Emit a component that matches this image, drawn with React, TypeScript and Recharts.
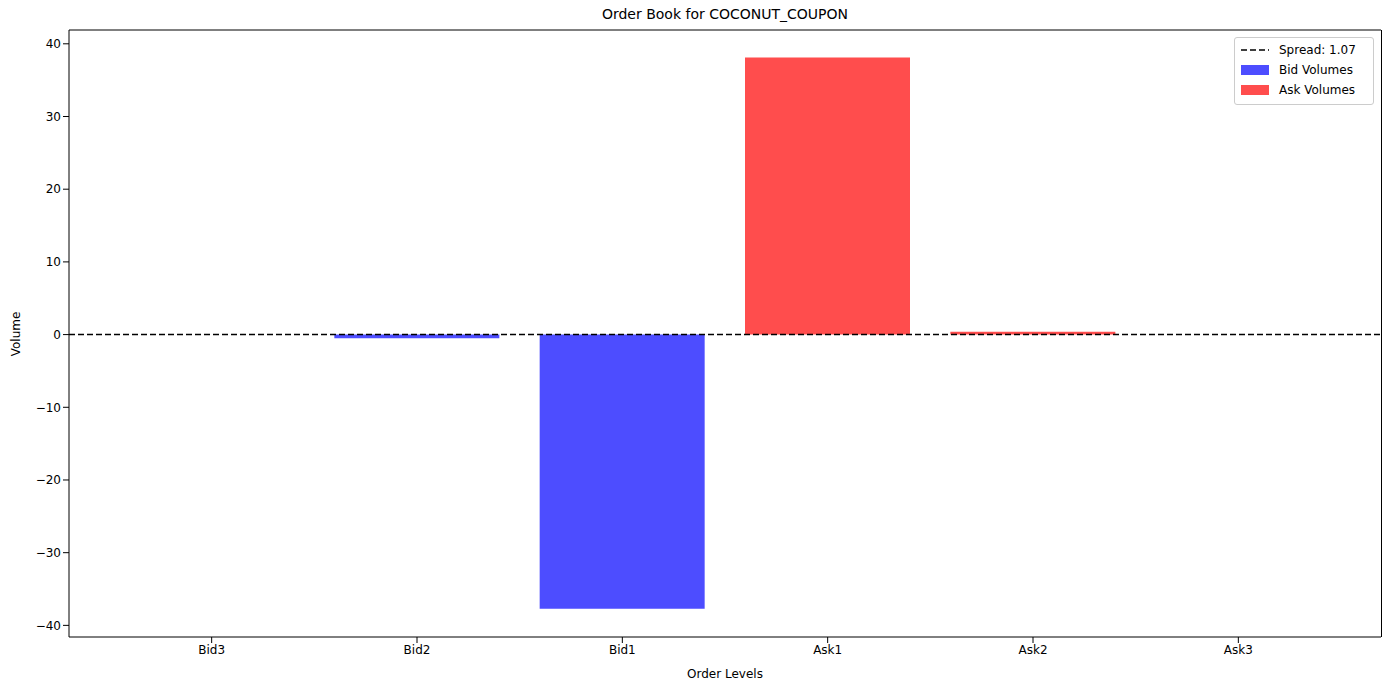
import { BarChart, Bar, XAxis, YAxis, ReferenceLine } from "recharts"

const levels = ["Bid3", "Bid2", "Bid1", "Ask1", "Ask2", "Ask3"]
const bidVolumes = [0, -0.5, -37.7, 0, 0, 0]
const askVolumes = [0, 0, 0, 38.1, 0.4, 0]
const yTicks = [-40, -30, -20, -10, 0, 10, 20, 30, 40]
const spread = 1.07

const data = levels.map((level, i) => ({ level, bid: bidVolumes[i], ask: askVolumes[i] }))

const font = "DejaVu Sans, sans-serif"
const fmt = (v: number) => (v < 0 ? "\u2212" + Math.abs(v) : String(v))

export default function App() {
  return (
    <div style={{ position: "absolute", left: 0, top: 0, width: 1389, height: 690, background: "#fff", fontFamily: font }}>
      <div style={{ position: "absolute", top: 6, left: 69, width: 1312, textAlign: "center", fontSize: 14 }}>
        Order Book for COCONUT_COUPON
      </div>
      <div style={{ position: "absolute", left: 16, top: 334, fontSize: 12, transform: "translate(-50%, -50%) rotate(-90deg)", whiteSpace: "nowrap" }}>
        Volume
      </div>
      <BarChart width={1389} height={690} data={data} margin={{ top: 30, right: 8, bottom: 0, left: 0 }} barSize={165}>
        <XAxis
          dataKey="level"
          padding={{ left: 40, right: 40 }}
          tick={{ fill: "#000", fontSize: 12, fontFamily: font }}
          tickLine={{ stroke: "#000" }}
          axisLine={{ stroke: "#000" }}
          height={53}
          label={{ value: "Order Levels", position: "insideBottom", offset: 12, fill: "#000", fontSize: 12, fontFamily: font }}
        />
        <YAxis
          type="number"
          domain={[-41.6, 41.9]}
          ticks={yTicks}
          tickFormatter={fmt}
          width={69}
          tick={{ fill: "#000", fontSize: 12, fontFamily: font }}
          tickLine={{ stroke: "#000" }}
          axisLine={{ stroke: "#000" }}
        />
        <Bar dataKey="bid" stackId="v" fill="#4d4dff" isAnimationActive={false} />
        <Bar dataKey="ask" stackId="v" fill="#ff4d4d" isAnimationActive={false} />
        <ReferenceLine y={0} stroke="#000" strokeWidth={1.5} strokeDasharray="6 3" />
        <ReferenceLine y={41.9} stroke="#000" />
      </BarChart>
      <div style={{ position: "absolute", left: 1381, top: 30, width: 1, height: 607, background: "#000" }} />
      <div style={{ position: "absolute", left: 1234, top: 37, width: 138, height: 66, border: "1px solid #ccc", borderRadius: 3, background: "#fff", fontSize: 12 }}>
        {[
          { label: `Spread: ${spread}`, kind: "line" },
          { label: "Bid Volumes", color: "#4d4dff" },
          { label: "Ask Volumes", color: "#ff4d4d" },
        ].map((it, i) => (
          <div key={i} style={{ position: "absolute", left: 6, top: 4 + i * 20, display: "flex", alignItems: "center", height: 16 }}>
            {it.kind === "line" ? (
              <svg width={28} height={4}><line x1={0} y1={2} x2={28} y2={2} stroke="#000" strokeWidth={1.5} strokeDasharray="6 3" /></svg>
            ) : (
              <div style={{ width: 28, height: 10, background: it.color }} />
            )}
            <span style={{ marginLeft: 10 }}>{it.label}</span>
          </div>
        ))}
      </div>
    </div>
  )
}
